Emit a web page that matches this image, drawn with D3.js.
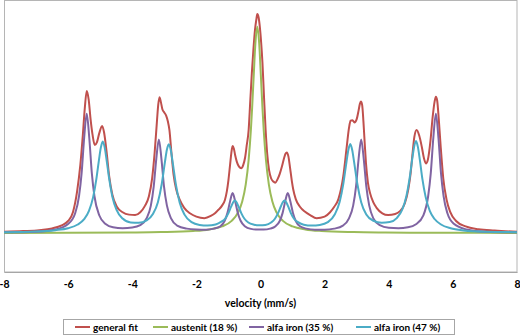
<!DOCTYPE html>
<html><head><meta charset="utf-8">
<script src="https://cdn.jsdelivr.net/npm/d3@7/dist/d3.min.js"></script>
<style>
body{margin:0;background:#fff;}
svg{display:block;}
text{font-family:Lato,"Open Sans",sans-serif;font-weight:bold;fill:#000;}
</style></head>
<body><svg id="c" width="520" height="336"></svg>
<script>
// ---- data (velocity in mm/s, relative absorption) ----
const tickValues = [-8,-6,-4,-2,0,2,4,6,8];
const xTitle = "velocity (mm/s)";
const seriesNames = ["general fit","austenit (18 %)","alfa iron (35 %)","alfa iron (47 %)"];
const seriesColors = ["#C0504D","#9BBB59","#8064A2","#4BACC6"];

const fitVel = [-8.0,-7.4,-6.9,-6.5,-6.2,-6.0,-5.85,-5.72,-5.62,-5.54,-5.48,-5.42,-5.36,-5.30,-5.24,-5.17,-5.10,-5.03,-4.94,-4.88,-4.80,-4.72,-4.62,-4.48,-4.3,-4.1,-3.91,-3.75,-3.6,-3.48,-3.38,-3.30,-3.23,-3.19,-3.15,-3.11,-3.06,-3.00,-2.94,-2.89,-2.84,-2.78,-2.71,-2.63,-2.52,-2.38,-2.2,-2.0,-1.75,-1.55,-1.42,-1.32,-1.2,-1.11,-1.05,-1.0,-0.95,-0.91,-0.87,-0.83,-0.79,-0.74,-0.67,-0.6,-0.54,-0.48,-0.43,-0.37,-0.32,-0.27,-0.22,-0.17,-0.13,-0.1,-0.06,-0.02,0.02,0.06,0.11,0.16,0.21,0.27,0.33,0.4,0.46,0.53,0.6,0.67,0.74,0.78,0.82,0.87,0.92,0.98,1.02,1.1,1.23,1.39,1.55,1.75,2.0,2.17,2.3,2.43,2.58,2.69,2.76,2.81,2.87,2.93,3.0,3.06,3.10,3.13,3.17,3.21,3.25,3.29,3.35,3.42,3.52,3.62,3.8,3.98,4.2,4.35,4.5,4.61,4.68,4.74,4.8,4.87,4.95,5.03,5.1,5.16,5.22,5.3,5.37,5.43,5.47,5.51,5.56,5.62,5.7,5.8,5.92,6.1,6.4,6.8,7.3,8.0];
const fitVal = [0.006,0.009,0.013,0.021,0.035,0.055,0.095,0.19,0.31,0.45,0.57,0.648,0.61,0.52,0.45,0.402,0.415,0.455,0.489,0.46,0.37,0.26,0.175,0.12,0.095,0.084,0.082,0.095,0.125,0.168,0.25,0.37,0.51,0.585,0.62,0.6,0.565,0.55,0.535,0.51,0.47,0.37,0.265,0.2,0.152,0.115,0.09,0.075,0.068,0.078,0.09,0.105,0.125,0.151,0.19,0.242,0.31,0.365,0.397,0.385,0.355,0.326,0.303,0.296,0.31,0.345,0.4,0.47,0.6,0.73,0.84,0.93,0.975,1.0,0.985,0.94,0.87,0.78,0.62,0.47,0.36,0.285,0.25,0.235,0.23,0.245,0.27,0.305,0.345,0.362,0.368,0.35,0.3,0.235,0.2,0.155,0.12,0.097,0.082,0.068,0.075,0.095,0.12,0.155,0.257,0.394,0.48,0.513,0.515,0.505,0.52,0.56,0.59,0.60,0.585,0.51,0.41,0.318,0.23,0.181,0.14,0.115,0.09,0.082,0.087,0.1,0.135,0.2,0.27,0.36,0.44,0.47,0.445,0.394,0.34,0.318,0.335,0.42,0.53,0.6,0.622,0.605,0.52,0.394,0.25,0.155,0.095,0.055,0.03,0.017,0.011,0.006];

const austVel = [-8,-6,-4.1,-3.1,-2.1,-1.6,-1.2,-0.9,-0.7,-0.57,-0.46,-0.37,-0.30,-0.26,-0.21,-0.16,-0.10,-0.04,0.01,0.06,0.10,0.17,0.26,0.37,0.5,0.7,1.0,1.4,1.9,2.9,3.9,5.8,8];
const austVal = [0.0006,0.0011,0.0024,0.0042,0.0093,0.0165,0.0301,0.0554,0.094,0.144,0.222,0.334,0.471,0.574,0.723,0.864,0.942,0.864,0.723,0.574,0.471,0.334,0.222,0.144,0.094,0.0554,0.0301,0.0165,0.0093,0.0042,0.0024,0.0011,0.0006];

const a35Vel = [-8.0,-7.0,-6.4,-6.0,-5.78,-5.66,-5.58,-5.50,-5.42,-5.34,-5.26,-5.18,-5.03,-4.83,-4.6,-4.3,-4.0,-3.75,-3.55,-3.42,-3.33,-3.25,-3.17,-3.09,-3.01,-2.92,-2.79,-2.6,-2.3,-2.0,-1.7,-1.45,-1.25,-1.12,-1.03,-0.95,-0.87,-0.79,-0.71,-0.62,-0.49,-0.3,-0.1,0.1,0.3,0.47,0.6,0.69,0.77,0.85,0.93,1.01,1.1,1.23,1.43,1.7,2.0,2.3,2.57,2.76,2.89,2.98,3.06,3.14,3.22,3.30,3.39,3.52,3.72,4.0,4.3,4.6,4.85,5.08,5.23,5.31,5.39,5.47,5.55,5.63,5.71,5.83,6.03,6.43,7.0,8.0];
const a35Val = [0.003,0.006,0.016,0.041,0.09,0.168,0.272,0.434,0.545,0.434,0.272,0.169,0.081,0.041,0.026,0.022,0.025,0.036,0.068,0.125,0.213,0.339,0.427,0.339,0.213,0.126,0.067,0.034,0.02,0.016,0.015,0.02,0.031,0.055,0.092,0.144,0.183,0.145,0.093,0.056,0.031,0.019,0.016,0.016,0.02,0.031,0.055,0.092,0.144,0.183,0.145,0.093,0.055,0.031,0.02,0.015,0.015,0.02,0.034,0.067,0.125,0.213,0.339,0.427,0.339,0.213,0.126,0.067,0.036,0.024,0.022,0.026,0.04,0.081,0.169,0.272,0.434,0.545,0.434,0.272,0.168,0.09,0.042,0.016,0.006,0.003];

const a47Vel = [-8,-7,-6.4,-6.0,-5.7,-5.5,-5.35,-5.22,-5.12,-5.04,-4.98,-4.92,-4.86,-4.8,-4.72,-4.62,-4.49,-4.3,-4.05,-3.8,-3.55,-3.35,-3.2,-3.08,-2.98,-2.92,-2.86,-2.80,-2.74,-2.64,-2.52,-2.37,-2.15,-1.9,-1.65,-1.4,-1.22,-1.1,-1.0,-0.92,-0.86,-0.80,-0.74,-0.68,-0.6,-0.5,-0.38,-0.2,-0.03,0.15,0.33,0.45,0.55,0.63,0.69,0.75,0.81,0.87,0.95,1.05,1.17,1.35,1.6,1.85,2.1,2.32,2.47,2.58,2.68,2.74,2.80,2.86,2.92,3.02,3.14,3.3,3.52,3.78,4.03,4.25,4.42,4.55,4.65,4.73,4.79,4.85,4.91,4.97,5.05,5.15,5.28,5.43,5.63,5.93,6.33,7,8];
const a47Val = [0.004,0.007,0.013,0.022,0.039,0.063,0.101,0.164,0.246,0.332,0.39,0.418,0.391,0.333,0.248,0.166,0.106,0.066,0.048,0.047,0.058,0.088,0.141,0.224,0.325,0.38,0.405,0.38,0.324,0.222,0.138,0.084,0.05,0.037,0.034,0.039,0.052,0.066,0.091,0.119,0.138,0.149,0.138,0.119,0.091,0.065,0.048,0.038,0.035,0.037,0.048,0.065,0.092,0.12,0.139,0.149,0.138,0.119,0.09,0.064,0.05,0.038,0.034,0.037,0.05,0.086,0.143,0.222,0.323,0.379,0.406,0.379,0.324,0.225,0.141,0.085,0.056,0.047,0.05,0.068,0.107,0.168,0.249,0.335,0.393,0.42,0.392,0.334,0.246,0.165,0.101,0.064,0.039,0.022,0.012,0.006,0.004];

// ---- chart ----
const svg = d3.select("#c");
const plot = {left:4, right:517, top:0.5, bottom:272};

const x = d3.scaleLinear().domain([-8,8]).range([plot.left, plot.right]);
const y = d3.scaleLinear().domain([-0.178, 1.064]).range([plot.bottom, 0]);

// frame
svg.append("rect")
  .attr("x", plot.left+0.5).attr("y", plot.top)
  .attr("width", plot.right-plot.left-0.5).attr("height", plot.bottom-plot.top)
  .attr("fill","none").attr("stroke","#b5b5b5").attr("stroke-width",1);

// x axis
const ax = svg.append("g").attr("transform",`translate(0,${plot.bottom})`)
  .call(d3.axisBottom(x).tickValues(tickValues).tickSize(0).tickPadding(9).tickFormat(d=>String(d)));
ax.select(".domain").attr("stroke","#a6a6a6");
ax.selectAll("text").attr("font-size",10.5).attr("font-family","Lato, 'Open Sans', sans-serif").attr("font-weight","bold").attr("fill","#000");

svg.append("text").attr("x", (plot.left+plot.right)/2).attr("y", 307)
  .attr("text-anchor","middle").attr("font-size",10.5).text(xTitle);

// series
const series = [
  {vel: fitVel, val: fitVal},
  {vel: austVel, val: austVal},
  {vel: a35Vel, val: a35Val},
  {vel: a47Vel, val: a47Val}
];
const line = d3.line().x(d=>x(d[0])).y(d=>y(d[1])).curve(d3.curveMonotoneX);
const gLines = svg.append("g");
series.forEach((s,i)=>{
  const pts = s.vel.map((v,j)=>[v, s.val[j]]);
  gLines.append("path").datum(pts)
    .attr("d", line).attr("fill","none")
    .attr("stroke", seriesColors[i]).attr("stroke-width",2)
    .attr("stroke-linejoin","round");
});

// legend
const lg = svg.append("g");
lg.append("rect").attr("x",63.5).attr("y",319.5).attr("width",391).attr("height",15)
  .attr("fill","#fff").attr("stroke","#a6a6a6");
const itemX = [75, 153, 249, 356];
seriesNames.forEach((n,i)=>{
  lg.append("line").attr("x1",itemX[i]).attr("x2",itemX[i]+15)
    .attr("y1",327).attr("y2",327).attr("stroke",seriesColors[i]).attr("stroke-width",2);
  lg.append("text").attr("x",itemX[i]+18).attr("y",330.5).attr("font-size",10).text(n);
});
</script></body></html>
